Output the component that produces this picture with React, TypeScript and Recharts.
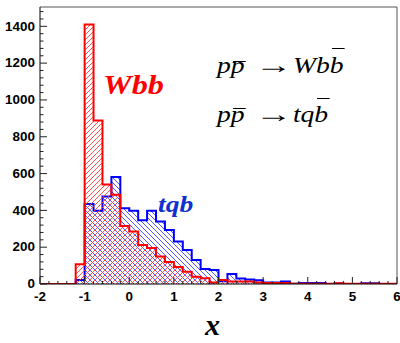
import React from 'react';
import { AreaChart, Area, XAxis, YAxis, ReferenceLine } from 'recharts';

// histogram bins: left edge of each 0.2-wide bin
const binStart = [
  -2.0, -1.8, -1.6, -1.4, -1.2, -1.0, -0.8, -0.6, -0.4, -0.2,
  0.0, 0.2, 0.4, 0.6, 0.8, 1.0, 1.2, 1.4, 1.6, 1.8,
  2.0, 2.2, 2.4, 2.6, 2.8, 3.0, 3.2, 3.4, 3.6, 3.8,
  4.0, 4.2, 4.4, 4.6, 4.8, 5.0, 5.2, 5.4, 5.6, 5.8,
];

const wbbCounts = [
  0, 0, 0, 0, 107, 1410, 889, 540, 485, 315,
  285, 212, 195, 150, 120, 92, 66, 40, 31, 8,
  22, 14, 13, 13, 8, 5, 5, 5, 2, 2,
  2, 2, 2, 4, 2, 2, 2, 2, 2, 2,
];

const tqbCounts = [
  0, 0, 0, 0, 22, 434, 398, 476, 581, 412,
  398, 347, 398, 339, 294, 231, 185, 131, 82, 76,
  15, 54, 30, 25, 20, 8, 8, 13, 2, 6,
  6, 6, 0, 3, 0, 0, 4, 4, 0, 0,
];

const xTickLabels = [-2, -1, 0, 1, 2, 3, 4, 5, 6];
const yTickLabels = [0, 200, 400, 600, 800, 1000, 1200, 1400];

const X_MIN = -2;
const X_MAX = 6;
const Y_MAX = 1505;

const data = [
  ...binStart.map((x, i) => ({ x, wbb: wbbCounts[i], tqb: tqbCounts[i] })),
  { x: X_MAX, wbb: 0, tqb: 0 },
];

// minor ticks every 0.2 on x, every 40 on y
const xTicks = Array.from({ length: 41 }, (_, i) => +(X_MIN + i * 0.2).toFixed(1));
const yTicks = Array.from({ length: 38 }, (_, i) => i * 40);

const tickFont = { fontFamily: "'Liberation Sans', Arial, sans-serif", fontWeight: 700, fontSize: 12 };

const XTick = (props: any) => {
  const { x, y, payload } = props;
  const v = payload.value;
  const major = xTickLabels.some((t) => Math.abs(t - v) < 1e-6);
  return (
    <g>
      <line x1={x} x2={x} y1={y} y2={y - (major ? 7 : 3)} stroke="#222" strokeWidth={1} />
      {major && (
        <text transform={`translate(${x},${y + 12.5}) scale(1.12,1)`} textAnchor="middle" dominantBaseline="central" fill="#000" {...tickFont}>
          {v}
        </text>
      )}
    </g>
  );
};

const YTick = (props: any) => {
  const { x, y, payload } = props;
  const v = payload.value;
  const major = yTickLabels.includes(v);
  return (
    <g>
      <line x1={x} x2={x + (major ? 7 : 3.5)} y1={y} y2={y} stroke="#222" strokeWidth={1} />
      {major && (
        <text transform={`translate(${x - 5},${y}) scale(1.12,1)`} textAnchor="end" dominantBaseline="central" fill="#000" {...tickFont}>
          {v}
        </text>
      )}
    </g>
  );
};

const serif = "'Liberation Serif', 'DejaVu Serif', serif";
const label = (left: number, top: number, size: number, extra: React.CSSProperties = {}): React.CSSProperties => ({
  position: 'absolute',
  left,
  top,
  fontFamily: serif,
  fontSize: size,
  lineHeight: 1,
  whiteSpace: 'nowrap',
  transform: 'scaleX(1.15)',
  transformOrigin: 'left top',
  ...extra,
});

// letter with a bar drawn over it, offset from the top of the line box
const Bar = ({ ch, top }: { ch: string; top: number }) => (
  <span style={{ position: 'relative', display: 'inline-block' }}>
    {ch}
    <span style={{ position: 'absolute', left: 2, right: -1, top, borderTop: '1.5px solid #000' }} />
  </span>
);

const Arrow = () => (
  <span
    style={{
      display: 'inline-block',
      fontStyle: 'normal',
      width: 33,
      marginLeft: 9,
      transform: 'scaleX(1.35)',
      transformOrigin: 'left center',
    }}
  >
    →
  </span>
);

export default function App() {
  return (
    <div style={{ position: 'absolute', left: 0, top: 0, width: 400, height: 343, background: '#fff', overflow: 'hidden' }}>
      <AreaChart width={400} height={343} data={data} margin={{ top: 7, right: 3, left: 0, bottom: 0 }}>
        <defs>
          <pattern id="hatchRed" patternUnits="userSpaceOnUse" width={5} height={5}>
            <path d="M-1,1 l2,-2 M0,5 l5,-5 M4,6 l2,-2" stroke="#ff4040" strokeWidth={0.9} />
          </pattern>
          <pattern id="hatchBlue" patternUnits="userSpaceOnUse" width={5} height={5}>
            <path d="M-1,4 l2,2 M0,0 l5,5 M4,-1 l2,2" stroke="#4040ff" strokeWidth={0.9} />
          </pattern>
        </defs>
        <XAxis
          dataKey="x"
          type="number"
          domain={[X_MIN, X_MAX]}
          ticks={xTicks}
          interval={0}
          tickSize={0}
          tickMargin={0}
          tick={<XTick />}
          height={59}
          axisLine={{ stroke: '#000' }}
          allowDataOverflow
        />
        <YAxis
          type="number"
          domain={[0, Y_MAX]}
          ticks={yTicks}
          interval={0}
          tickSize={0}
          tickMargin={0}
          tick={<YTick />}
          width={40}
          axisLine={{ stroke: '#000' }}
          allowDataOverflow
        />
        <ReferenceLine y={Y_MAX} stroke="#555" strokeWidth={1} />
        <ReferenceLine x={X_MAX} stroke="#555" strokeWidth={1} />
        <Area
          type="stepAfter"
          dataKey="tqb"
          stroke="#0000ff"
          strokeWidth={2}
          fill="url(#hatchBlue)"
          fillOpacity={1}
          dot={false}
          activeDot={false}
          isAnimationActive={false}
        />
        <Area
          type="stepAfter"
          dataKey="wbb"
          stroke="#ff0000"
          strokeWidth={2}
          fill="url(#hatchRed)"
          fillOpacity={1}
          dot={false}
          activeDot={false}
          isAnimationActive={false}
        />
      </AreaChart>

      <div style={label(103, 71, 28, { color: '#ff0000', fontWeight: 700, fontStyle: 'italic' })}>Wbb</div>
      <div style={label(158, 192, 24, { color: '#1030d0', fontWeight: 700, fontStyle: 'italic' })}>tqb</div>
      <div style={label(217, 53, 24, { color: '#000', fontStyle: 'italic' })}>
        p<Bar ch="p" top={8} />
        <Arrow />Wb<Bar ch="b" top={-5} />
      </div>
      <div style={label(217, 102, 24, { color: '#000', fontStyle: 'italic' })}>
        p<Bar ch="p" top={6} />
        <Arrow />tq<Bar ch="b" top={-4} />
      </div>
      <div style={label(205, 310, 30, { color: '#000', fontWeight: 700, fontStyle: 'italic', transform: 'none' })}>x</div>
    </div>
  );
}
